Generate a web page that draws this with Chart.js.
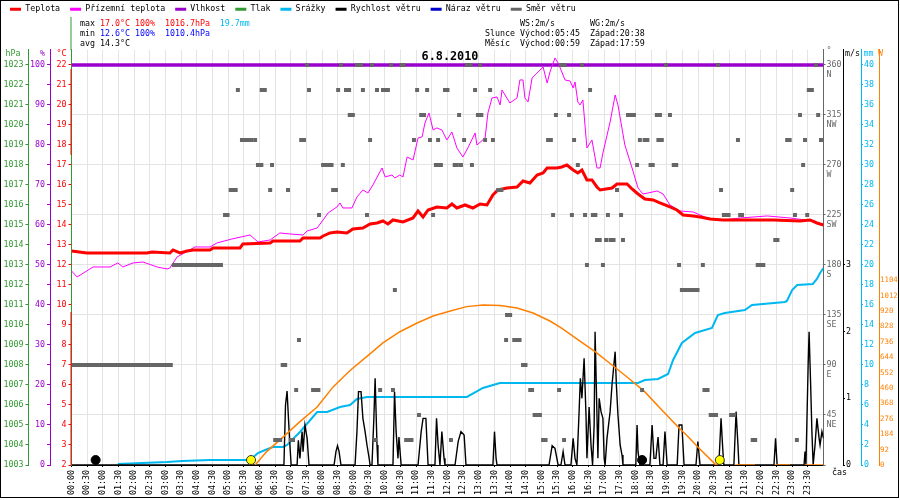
<!DOCTYPE html>
<html><head><meta charset="utf-8">
<style>html,body{margin:0;padding:0;background:#fff;}canvas{display:block;}</style>
<script src="https://cdn.jsdelivr.net/npm/chart.js@4.4.1/dist/chart.umd.min.js"></script>
</head><body>
<canvas id="c" width="900" height="500"></canvas>
<script>
// ---- data (time in hours, value) ----
const tempSeries = [[0,12.7],[0.49,12.6],[2.41,12.6],[2.57,12.65],[3.14,12.6],[3.24,12.75],[3.46,12.6],[3.69,12.7],[3.88,12.75],[4.42,12.75],[4.52,12.85],[5.38,12.85],[5.47,13.05],[6.34,13.1],[6.43,13.2],[7.29,13.2],[7.39,13.35],[7.93,13.35],[8.03,13.45],[8.25,13.6],[8.47,13.65],[8.79,13.6],[8.98,13.8],[9.30,13.85],[9.53,14.05],[9.75,14.1],[9.94,14.2],[10.10,14.05],[10.26,14.25],[10.58,14.15],[10.90,14.35],[11.06,14.7],[11.22,14.4],[11.38,14.75],[11.66,14.9],[11.98,14.85],[12.14,15.05],[12.30,14.85],[12.56,15.0],[12.81,14.85],[13.04,15.05],[13.26,15.0],[13.45,15.5],[13.61,15.75],[13.90,15.85],[14.22,15.9],[14.41,16.2],[14.63,16.1],[14.86,16.5],[15.05,16.6],[15.18,16.85],[15.49,16.85],[15.65,16.9],[15.81,17.0],[16.01,16.75],[16.16,16.6],[16.29,16.75],[16.45,16.25],[16.61,16.25],[16.77,15.9],[16.87,15.75],[17.25,15.85],[17.41,16.05],[17.73,16.05],[17.89,15.8],[18.08,15.55],[18.30,15.3],[18.56,15.25],[18.78,15.1],[19.10,14.9],[19.32,14.75],[19.52,14.5],[19.84,14.45],[20.06,14.4],[20.38,14.3],[20.79,14.25],[22.39,14.25],[23.25,14.2],[23.57,14.25],[23.79,14.1],[24,14.0]];
const groundSeries = [[0,11.7],[0.18,11.4],[0.69,11.9],[1.23,11.9],[1.48,12.1],[1.64,11.9],[1.96,12.1],[2.28,12.15],[2.73,11.9],[3.05,11.8],[3.14,11.85],[3.37,12.4],[3.94,12.9],[4.42,12.9],[4.64,13.1],[5.12,13.3],[5.70,13.5],[5.95,13.15],[6.34,13.25],[6.65,13.6],[6.97,13.55],[7.39,13.5],[7.52,13.7],[7.84,13.85],[8.03,14.25],[8.19,14.6],[8.47,14.9],[8.57,15.1],[8.66,14.85],[8.95,14.85],[9.11,15.4],[9.30,15.75],[9.46,15.6],[9.62,16.0],[9.91,16.85],[10.01,16.4],[10.23,16.5],[10.32,16.35],[10.48,16.5],[10.58,16.4],[10.71,17.4],[10.90,17.25],[11.06,18.35],[11.19,18.4],[11.28,19.1],[11.41,19.6],[11.54,18.75],[11.66,18.85],[11.82,18.75],[11.98,18.25],[12.14,18.65],[12.30,17.85],[12.49,17.4],[12.65,17.85],[12.88,18.6],[12.94,18.0],[13.20,18.35],[13.29,19.6],[13.42,20.35],[13.58,20.4],[13.68,20.0],[13.74,20.75],[13.99,20.1],[14.22,20.35],[14.31,21.25],[14.41,21.25],[14.47,20.35],[14.57,20.15],[14.70,21.35],[14.86,21.6],[15.05,21.9],[15.18,21.1],[15.27,21.65],[15.43,22.35],[15.53,22.1],[15.65,21.65],[15.75,21.25],[15.91,21.2],[16.01,20.85],[16.07,21.15],[16.16,20.15],[16.23,20.0],[16.32,20.25],[16.45,17.85],[16.61,18.25],[16.77,16.85],[16.87,16.85],[16.96,17.6],[17.19,19.15],[17.35,20.5],[17.44,20.0],[17.66,18.0],[17.89,16.85],[18.08,15.85],[18.24,15.55],[18.40,15.6],[18.69,15.7],[18.88,15.55],[19.10,15.0],[19.42,14.7],[19.84,14.65],[20.28,14.35],[20.79,14.25],[21.34,14.35],[22.20,14.45],[22.93,14.35],[23.66,14.2],[24,14.0]];
const humSeries = [[0,100],[24,100]];
const rainSeries = [[1.48,0.1],[2.25,0.2],[3.05,0.3],[3.53,0.4],[4.42,0.5],[5.70,0.5],[5.95,1.2],[6.18,1.5],[6.43,1.8],[6.75,1.8],[6.88,2.0],[7.29,3.3],[7.84,5.3],[8.16,5.3],[8.57,5.8],[8.89,6.0],[9.11,6.6],[9.43,6.8],[12.62,6.8],[13.13,7.7],[13.67,8.2],[18.08,8.2],[18.30,8.5],[18.72,8.6],[19.04,9.1],[19.20,10.5],[19.48,12.2],[19.90,13.2],[20.44,13.7],[20.63,15.0],[20.85,15.2],[21.49,15.5],[21.72,16.0],[22.77,16.3],[22.83,16.4],[23.0,17.5],[23.16,18.0],[23.66,18.1],[23.79,18.6],[23.89,19.2],[24,19.7]];
const windSeries = [[0,0],[6.78,0],[6.83,0.9],[6.88,1.11],[6.93,0.65],[6.97,0.3],[7.01,0],[7.20,0],[7.24,0.37],[7.29,0.1],[7.36,0.5],[7.39,0.2],[7.45,0.6],[7.52,0.4],[7.58,0],[8.38,0],[8.44,0.2],[8.49,0.29],[8.54,0.2],[8.60,0],[9.05,0],[9.11,0.5],[9.16,1.1],[9.24,1.1],[9.30,0.7],[9.37,0.5],[9.43,0.3],[9.50,0.1],[9.53,0],[9.59,0],[9.65,0.7],[9.69,1.3],[9.75,0.3],[9.78,0],[10.26,0],[10.31,1.1],[10.36,0.5],[10.42,0.1],[10.45,0.42],[10.52,0],[11.06,0],[11.16,0.5],[11.22,0.7],[11.31,0.7],[11.38,0],[11.60,0],[11.65,0.7],[11.70,0.3],[11.76,0],[11.82,0.5],[11.89,0.1],[11.92,0],[12.24,0],[12.34,0.35],[12.43,0.5],[12.53,0.45],[12.59,0],[13.45,0],[13.50,0.5],[13.55,0.1],[13.58,0],[15.24,0],[15.34,0.29],[15.43,0.25],[15.53,0],[15.62,0],[15.69,0.2],[15.75,0],[15.94,0],[16.01,0.4],[16.07,0.1],[16.13,0],[16.20,0.8],[16.24,1.3],[16.29,1.0],[16.36,1.6],[16.42,0.75],[16.45,0.1],[16.52,0.87],[16.58,0.3],[16.63,0],[16.68,0.6],[16.71,2.0],[16.77,0.75],[16.80,0.1],[16.84,1.0],[16.90,0.8],[16.96,0.7],[17.00,0.1],[17.03,0],[17.09,0.4],[17.19,0.8],[17.25,1.2],[17.35,1.7],[17.39,1.2],[17.44,0.75],[17.51,0.3],[17.57,0.15],[17.60,0],[18.01,0],[18.05,0.6],[18.08,0.2],[18.14,0],[18.46,0],[18.53,0.6],[18.59,0.1],[18.65,0.1],[18.72,0.42],[18.78,0],[18.88,0],[18.94,0.5],[19.01,0],[19.33,0],[19.39,0.6],[19.48,0.6],[19.55,0],[19.93,0],[19.99,0.35],[20.06,0],[20.66,0],[20.73,0.7],[20.79,0.2],[20.82,0],[21.14,0],[21.21,0.8],[21.27,0.3],[21.30,0],[22.42,0],[22.47,0.4],[22.52,0],[23.38,0],[23.41,0.2],[23.44,0],[23.51,1.5],[23.54,2.0],[23.59,1.2],[23.63,0.5],[23.67,0],[23.73,0.3],[23.79,0.7],[23.86,0.4],[23.89,0.3],[23.95,0.5],[24,0.4]];
const sunSeries = [[5.86,0],[6.23,80],[6.75,167],[7.29,259],[7.84,347],[8.35,467],[8.89,565],[9.42,648],[9.94,730],[10.48,797],[11.03,849],[11.54,891],[12.09,921],[12.61,947],[13.14,957],[13.68,953],[14.22,939],[14.73,909],[15.27,861],[15.64,819],[16.17,748],[16.71,678],[17.25,598],[17.77,520],[18.30,437],[18.84,329],[19.36,227],[19.68,169],[19.99,108],[20.54,6],[20.63,0],[20.64,null],[21.18,0],[21.81,0],[21.82,null],[22.45,0],[22.93,0],[22.94,null],[23.41,0],[24,0]];
const sunEvents = [5.73, 20.69];   // sunrise / sunset markers
const moonEvents = [0.77, 18.21];  // moon markers
const radiationTicks = [0, 92, 184, 276, 368, 460, 552, 644, 736, 828, 920, 1012, 1104];
// wind direction: times (h) for each compass level
const dirN   = [7.52,8.60,9.11,9.18,9.24,9.59,10.2,10.53,10.60,12.62,12.74,13.04,15.62,15.74,16.29,18.97,20.63,23.76];
const dirNNW = [5.31,6.07,6.17,7.58,8.51,8.76,8.86,9.30,9.75,9.94,10.02,10.10,11.03,11.35,11.92,12.0,12.88,13.36,16.55,23.53,23.63];
const dirNW  = [8.88,8.98,11.16,11.25,12.37,12.97,13.08,15.46,15.88,17.76,17.86,17.95,18.68,18.78,19.1,23.25,23.83];
const dirWNW = [5.44,5.54,5.63,5.73,5.86,7.33,7.42,9.53,10.93,11.44,11.70,12.53,13.20,13.45,15.21,15.30,16.04,18.14,18.29,18.38,18.73,18.84,21.27,22.84,22.92,23.41,23.92];
const dirW   = [5.95,6.06,6.40,8.03,8.12,8.22,8.30,8.66,11.63,11.71,11.79,12.23,12.30,12.43,12.78,16.16,18.05,18.48,18.55,19.22,19.30,23.35];
const dirWSW = [5.08,5.17,5.24,6.34,6.91,8.35,8.44,13.62,13.72,17.41,20.73,23.0];
const dirSW  = [4.90,4.98,7.90,9.43,11.54,15.37,15.97,16.39,16.64,16.72,17.12,17.54,20.82,20.90,20.97,21.34,21.40,23.09,23.48];
const dirSSW = [16.77,16.86,17.06,17.20,17.30,17.60,22.46,22.53];
const dirS   = [3.27,3.35,3.44,3.52,3.60,3.69,3.77,3.85,3.94,4.02,4.10,4.19,4.27,4.35,4.44,4.52,4.60,4.69,4.77,16.45,16.96,19.39,20.15,21.90,22.0,22.08];
const dirSSE = [10.32,19.48,19.56,19.65,19.74,19.82,19.90,19.98];
const dirSE  = [13.90,14.0];
const dirESE = [7.26,13.87,14.13,14.21,14.30];
const dirE   = [0.02,0.08,0.17,0.25,0.33,0.42,0.5,0.58,0.67,0.75,0.83,0.92,1.0,1.08,1.17,1.25,1.33,1.42,1.5,1.58,1.67,1.75,1.83,1.92,2.0,2.08,2.17,2.25,2.33,2.42,2.5,2.58,2.67,2.75,2.83,2.92,3.0,3.08,3.17,6.74,6.82,14.41,14.49];
const dirENE = [7.17,7.71,7.80,7.88,9.85,10.26,14.64,14.70,15.56,18.21,20.2,20.3];
const dirNE  = [11.09,14.78,14.86,14.95,20.4,20.5,20.57,21.05,21.15];
const dirNNE = [6.5,6.58,6.66,6.99,7.07,9.69,10.68,10.76,10.85,12.11,15.05,15.13,15.72,21.74,21.82,23.15];
const compassLabels = ['', 'NE', 'E', 'SE', 'S', 'SW', 'W', 'NW', 'N'];

// ---- styling ----
const FONT = "'DejaVu Sans Mono', monospace";
const RED = '#ff0000', MAG = '#ff00ff', PURP = '#9900cc', GREEN = '#339933', CYAN = '#00b8f0',
      NAVY = '#0000cc', GRAY = '#666666', ORANGE = '#ff8000', BLUE = '#0000ff';

const toXY = p => p.map(([x, y]) => ({x, y}));
const dirLevels = [[360,dirN],[337.5,dirNNW],[315,dirNW],[292.5,dirWNW],[270,dirW],[247.5,dirWSW],[225,dirSW],[202.5,dirSSW],[180,dirS],[157.5,dirSSE],[135,dirSE],[112.5,dirESE],[90,dirE],[67.5,dirENE],[45,dirNE],[22.5,dirNNE]];
const dirPoints = dirLevels.flatMap(([d, ts]) => ts.map(t => ({x: t, y: d}))).sort((a, b) => a.x - b.x);

Chart.defaults.font.family = FONT;
Chart.defaults.font.size = 8.3;
Chart.defaults.color = '#000';

const fmtTime = v => {
  const h = Math.floor(v), m = Math.round((v - h) * 60);
  return String(h).padStart(2, '0') + ':' + String(m).padStart(2, '0');
};

const deco = {
  id: 'deco',
  afterDraw(chart) {
    const ctx = chart.ctx, s = chart.scales;
    ctx.save();
    // temperature axis line colouring
    const xT = s.yT.right - 0.5;
    ctx.lineWidth = 1;
    ctx.strokeStyle = GREEN;
    ctx.beginPath(); ctx.moveTo(xT, 17); ctx.lineTo(xT, chart.chartArea.top); ctx.stroke();
    ctx.strokeStyle = RED;
    ctx.beginPath(); ctx.moveTo(xT, 69); ctx.lineTo(xT, 155); ctx.moveTo(xT, 312); ctx.lineTo(xT, chart.chartArea.bottom); ctx.stroke();
    // info text
    ctx.font = '8.3px ' + FONT;
    ctx.textBaseline = 'middle';
    ctx.textAlign = 'left';
    const runs = (x, y, parts) => {
      let cx = x;
      parts.forEach(([t, c]) => { ctx.fillStyle = c; ctx.fillText(t, cx, y); cx += ctx.measureText(t).width; });
    };
    runs(80, 24, [['max ', '#000'], ['17.0°C ', RED], ['100%  ', RED], ['1016.7hPa  ', RED], ['19.7mm', CYAN]]);
    runs(80, 34, [['min ', '#000'], ['12.6°C ', BLUE], ['100%  ', BLUE], ['1010.4hPa', BLUE]]);
    runs(80, 44, [['avg 14.3°C', '#000']]);
    runs(520, 24, [['WS:2m/s', '#000']]);
    runs(590, 24, [['WG:2m/s', '#000']]);
    runs(485, 34, [['Slunce Východ:05:45  Západ:20:38', '#000']]);
    runs(485, 44, [['Měsíc  Východ:00:59  Západ:17:59', '#000']]);
    // axis titles
    ctx.textAlign = 'center';
    const tt = (t, x, y, c) => { ctx.fillStyle = c; ctx.fillText(t, x, y); };
    tt('hPa', 13, 54, GREEN);
    tt('%', 42.5, 54, PURP);
    tt('°C', 61.5, 54, RED);
    tt('°', 829, 51, GRAY);
    tt('m/s', 852.5, 54, '#000');
    tt('mm', 868.5, 54, CYAN);
    tt('W', 880.5, 54, ORANGE);
    ctx.textAlign = 'left';
    tt('čas', 832, 473, '#000');
    // frame
    ctx.strokeStyle = '#000';
    ctx.lineWidth = 1;
    ctx.strokeRect(0.5, 0.5, 898, 497);
    ctx.restore();
  }
};

const yCommon = (pos, weight, width, color, min, max, step) => ({
  type: 'linear', position: pos, weight, min, max,
  border: {color, width: 1},
  grid: {drawOnChartArea: false, tickColor: color, tickLength: pos === 'left' ? 3 : 2},
  ticks: {color, stepSize: step, includeBounds: false, autoSkip: false, padding: pos === 'left' ? 2 : 1},
  afterFit: sc => { sc.width = width; }
});

const scales = {
  x: {
    type: 'linear', min: 0, max: 24,
    grid: {color: '#e4e4e4', tickColor: '#000', tickLength: 2},
    border: {color: '#000'},
    ticks: {stepSize: 0.5, autoSkip: false, minRotation: 90, maxRotation: 90, padding: 3, color: '#000',
            callback: v => v >= 24 ? null : fmtTime(v)},
    afterFit: sc => { sc.height = 35; }
  },
  yP: yCommon('left', 3, 28.5, GREEN, 1003, 1023.75, 1),
  yH: yCommon('left', 2, 21.5, PURP, 0, 103.75, 5),
  yT: yCommon('left', 1, 21.5, RED, 2, 22.75, 1),
  yD: yCommon('right', 0, 19.5, GRAY, 0, 373.5, 45),
  yW: yCommon('right', 1, 18, '#000', 0, 6.225, 1),
  yR: yCommon('right', 2, 18, CYAN, 0, 41.5, 2),
  yS: yCommon('right', 3, 21, ORANGE, 0, 2481.7, 92)
};
scales.yP.ticks.callback = v => String(v);
scales.yH.ticks.callback = v => (v % 10 === 0 ? String(v) : '');
scales.yT.ticks.callback = v => String(v);
scales.yT.border.color = GREEN;
scales.yD.ticks.callback = v => (v === 0 ? '' : [String(v), compassLabels[Math.round(v / 45)]]);
scales.yD.ticks.labelOffset = 5;
scales.yD.grid = {drawOnChartArea: true, color: '#e4e4e4', tickColor: GRAY, tickLength: 2};
scales.yW.ticks.callback = v => (v <= 3 ? String(v) : null);
scales.yR.ticks.callback = v => String(v);
scales.yS.afterBuildTicks = sc => { sc.ticks = radiationTicks.map(v => ({value: v})); };
scales.yS.ticks.callback = v => String(v);
scales.yS.ticks.padding = 0;
scales.yS.ticks.font = {family: FONT, size: 7.4};
scales.yS.grid.tickLength = 1;

new Chart(document.getElementById('c'), {
  type: 'line',
  data: {
    datasets: [
      {label: 'Teplota', data: toXY(tempSeries), borderColor: RED, backgroundColor: RED, borderWidth: 3, yAxisID: 'yT', order: 2},
      {label: 'Přízemní teplota', data: toXY(groundSeries), borderColor: MAG, backgroundColor: MAG, borderWidth: 1, yAxisID: 'yT', order: 3},
      {label: 'Vlhkost', data: toXY(humSeries), borderColor: PURP, backgroundColor: PURP, borderWidth: 3.5, yAxisID: 'yH', order: 4},
      {label: 'Tlak', data: [], borderColor: GREEN, backgroundColor: GREEN, yAxisID: 'yP', order: 9},
      {label: 'Srážky', data: toXY(rainSeries), borderColor: CYAN, backgroundColor: CYAN, borderWidth: 2, yAxisID: 'yR', order: 7},
      {label: 'Rychlost větru', data: toXY(windSeries), borderColor: '#000', backgroundColor: '#000', borderWidth: 1.4, yAxisID: 'yW', order: 6},
      {label: 'Náraz větru', data: [], borderColor: NAVY, backgroundColor: NAVY, yAxisID: 'yW', order: 9},
      {label: 'Směr větru', data: dirPoints, borderColor: GRAY, backgroundColor: GRAY, showLine: false,
       pointStyle: 'rect', pointRadius: 2.8, pointBorderWidth: 0, pointBackgroundColor: GRAY, yAxisID: 'yD', order: 1},
      {label: 'Slunce', data: toXY(sunSeries), borderColor: ORANGE, backgroundColor: ORANGE, borderWidth: 1.5, yAxisID: 'yS', order: 5, spanGaps: false},
      {label: 'Východ/západ slunce', data: sunEvents.map(t => ({x: t, y: 2.25})), showLine: false, pointRadius: 4.5,
       pointBackgroundColor: '#ffff00', pointBorderColor: '#333', pointBorderWidth: 1, yAxisID: 'yT', order: 0},
      {label: 'Měsíc', data: moonEvents.map(t => ({x: t, y: 2.25})), showLine: false, pointRadius: 4.5,
       pointBackgroundColor: '#000', pointBorderColor: '#000', pointBorderWidth: 1, yAxisID: 'yT', order: 0}
    ]
  },
  options: {
    responsive: false, animation: false, devicePixelRatio: 1, events: [],
    layout: {padding: {top: -5, left: 0, right: 0, bottom: 0}},
    elements: {point: {radius: 0}, line: {tension: 0, fill: false}},
    scales,
    plugins: {
      tooltip: {enabled: false},
      legend: {
        position: 'top', align: 'start',
        labels: {
          boxWidth: 11, boxHeight: 3, padding: 10, color: '#000', font: {family: FONT, size: 8.3},
          generateLabels: chart => chart.data.datasets.slice(0, 8).map((ds, i) => ({
            text: ds.label, fillStyle: ds.borderColor, strokeStyle: ds.borderColor, lineWidth: 0, hidden: false, datasetIndex: i
          })),
          sort: (a, b) => a.datasetIndex - b.datasetIndex
        }
      },
      title: {
        display: true, text: '6.8.2010', color: '#000', weight: 500,
        font: {family: FONT, size: 11.8, weight: 'bold'},
        padding: {top: 26.6, bottom: -14.1}
      }
    }
  },
  plugins: [deco]
});
</script>
</body></html>
